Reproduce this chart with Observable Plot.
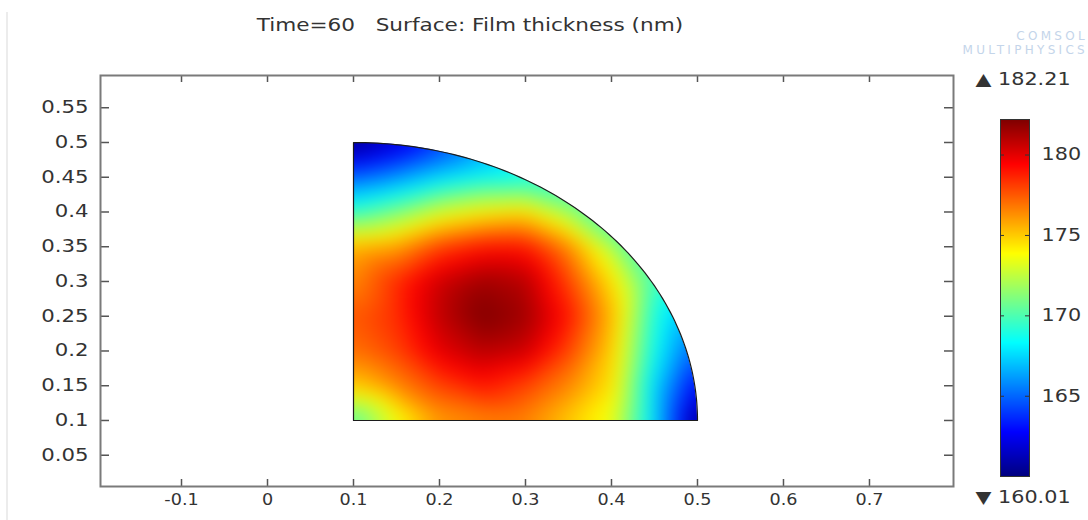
<!DOCTYPE html>
<html><head><meta charset="utf-8">
<script src="https://cdn.jsdelivr.net/npm/d3@7"></script>
<script src="https://cdn.jsdelivr.net/npm/@observablehq/plot@0.6"></script>
<style>
body{margin:0;background:#fff;}
#root{position:relative;width:1088px;height:520px;overflow:hidden;font-family:"DejaVu Sans",sans-serif;background:#fff;}
#main,#cbar{position:absolute;top:0;}
#main{left:0;}
#cbar{left:960px;}
#title{position:absolute;left:0;width:940px;top:15px;text-align:center;color:#333;font-size:17px;}
#title span{display:inline-block;transform:scaleX(1.27);white-space:pre;}
#wm{position:absolute;right:0px;top:29px;text-align:right;color:#c4d5ea;font-size:12px;line-height:14px;letter-spacing:3.3px;}
#edge{position:absolute;left:6px;top:12px;width:2px;height:510px;background:#ececec;}
</style></head>
<body>
<div id="root">
  <div id="edge"></div>
  <div id="main"></div>
  <div id="cbar"></div>
  <div id="title"><span>Time=60   Surface: Film thickness (nm)</span></div>
  <div id="wm">COMSOL<br>MULTIPHYSICS</div>
</div>
<script>
// ---- data ----
const gridX = [0.1, 0.15, 0.2, 0.25, 0.3, 0.35, 0.4, 0.45, 0.5];
const gridY = [0.1, 0.15, 0.2, 0.25, 0.3, 0.35, 0.4, 0.45, 0.5];
// film thickness (nm) at gridX (columns) for each gridY (rows); null = outside the domain
const thicknessRows = [
  [170.0, 173.5, 176.0, 176.5, 176.5, 175.0, 173.5, 167.5, 160.2], // y=0.10
  [175.0, 176.5, 178.0, 179.0, 178.0, 176.5, 174.5, 167.5, null],  // y=0.15
  [177.0, 178.0, 180.0, 181.0, 180.5, 178.0, 175.0, 168.5, null],  // y=0.20
  [177.5, 178.5, 180.8, 182.2, 181.5, 179.0, 175.5, 169.0, null],  // y=0.25
  [176.5, 178.5, 180.5, 181.5, 181.0, 178.0, 174.5, null, null],   // y=0.30
  [175.5, 176.0, 178.0, 179.0, 179.0, 176.5, 172.5, null, null],   // y=0.35
  [169.5, 171.0, 173.0, 174.0, 174.5, 172.0, null, null, null],    // y=0.40
  [165.0, 166.0, 167.5, 168.5, null, null, null, null, null],      // y=0.45
  [160.2, null, null, null, null, null, null, null, null]          // y=0.50
];
// extra samples on the curved edge and near the corners
const edgeSampleX = [0.15, 0.2, 0.25, 0.3, 0.35, 0.4, 0.446, 0.471, 0.487, 0.497, 0.475, 0.1];
const edgeSampleY = [0.497, 0.487, 0.471, 0.446, 0.412, 0.365, 0.3, 0.25, 0.2, 0.15, 0.1, 0.475];
const edgeThickness = [162.0, 164.5, 167.0, 169.0, 170.5, 170.5, 170.0, 167.5, 165.5, 163.0, 164.0, 162.5];

// domain geometry: quarter disk
const regionCenter = [0.1, 0.1];
const regionRadius = 0.4;

const xTicks = [-0.1, 0, 0.1, 0.2, 0.3, 0.4, 0.5, 0.6, 0.7];
const yTicks = [0.05, 0.1, 0.15, 0.2, 0.25, 0.3, 0.35, 0.4, 0.45, 0.5, 0.55];
const colorTicks = [165, 170, 175, 180];
const thicknessMin = 160.01;
const thicknessMax = 182.21;
const jetColors = ["#00007f", "#0000ff", "#00ffff", "#ffff00", "#ff0000", "#7f0000"];
const jetPositions = [0, 0.125, 0.375, 0.625, 0.875, 1];

// ---- build tables ----
const samples = [];
thicknessRows.forEach((row, j) => row.forEach((v, i) => {
  if (v != null) samples.push({x: gridX[i], y: gridY[j], v});
}));
edgeSampleX.forEach((x, i) => samples.push({x, y: edgeSampleY[i], v: edgeThickness[i]}));

const arcPts = d3.range(0, 91).map(a => {
  const t = a * Math.PI / 180;
  return {x: regionCenter[0] + regionRadius * Math.cos(t), y: regionCenter[1] + regionRadius * Math.sin(t)};
});
const regionTop = regionCenter[1] + regionRadius, regionRight = regionCenter[0] + regionRadius;
const outline = [{x: regionCenter[0], y: regionCenter[1]}, ...arcPts, {x: regionCenter[0], y: regionCenter[1]}];
// white mask above the arc (slightly widened to hide the raster's edge column)
const maskPts = [{x: regionRight + 0.01, y: regionCenter[1]}, ...arcPts, {x: regionCenter[0] - 0.002, y: regionTop}];

const colorScale = {
  type: "linear",
  domain: jetPositions.map(p => thicknessMin + p * (thicknessMax - thicknessMin)),
  range: jetColors,
  clamp: true
};

const W = 1088, H = 520, mL = 100, mR = 135, mT = 75, mB = 34;
const pw = W - mL - mR, ph = H - mT - mB;
const frameGray = "#7a7a7a";

const main = Plot.plot({
  width: W, height: H,
  marginLeft: mL, marginRight: mR, marginTop: mT, marginBottom: mB,
  style: {fontFamily: "DejaVu Sans, sans-serif", color: "#333", background: "transparent"},
  x: {domain: [-0.1942, 0.7977], label: null},
  y: {domain: [0.005, 0.5964], label: null},
  color: colorScale,
  marks: [
    Plot.raster(samples, {x: "x", y: "y", fill: "v", x1: regionCenter[0], y1: regionCenter[1], x2: regionRight, y2: regionTop,
      interpolate: "barycentric", blur: 9}),
    Plot.areaY(maskPts, {x: "x", y1: "y", y2: regionTop + 0.002, fill: "white", curve: "linear"}),
    Plot.line(outline, {x: "x", y: "y", stroke: "#1c1c1c", strokeWidth: 1.2}),
    Plot.tickX(xTicks, {x: d => d, insetTop: ph - 7, stroke: "#555", strokeWidth: 1.5}),
    Plot.tickX(xTicks, {x: d => d, insetBottom: ph - 7, stroke: "#555", strokeWidth: 1.5}),
    Plot.tickY(yTicks, {y: d => d, insetRight: pw - 9, stroke: "#555", strokeWidth: 1.5}),
    Plot.tickY(yTicks, {y: d => d, insetLeft: pw - 9, stroke: "#555", strokeWidth: 1.5}),
    Plot.frame({stroke: frameGray, strokeWidth: 2}),
    Plot.axisX(xTicks, {anchor: "bottom", tickSize: 0, tickPadding: 7, tickFormat: d => String(d), fontSize: 16, label: null}),
    Plot.axisY(yTicks, {anchor: "left", tickSize: 0, tickPadding: 12, tickFormat: d => String(d), fontSize: 17, label: null})
  ]
});
main.querySelectorAll('[aria-label="y-axis tick label"] text').forEach(t => {
  t.setAttribute("transform", (t.getAttribute("transform") || "") + " scale(1.25,1)");
});
main.querySelectorAll('[aria-label="x-axis tick label"] text').forEach(t => {
  t.setAttribute("transform", (t.getAttribute("transform") || "") + " scale(1.1,1)");
});
document.getElementById("main").appendChild(main);

const cb = Plot.plot({
  width: 128, height: 520,
  marginLeft: 40, marginRight: 59, marginTop: 119, marginBottom: 44,
  style: {fontFamily: "DejaVu Sans, sans-serif", color: "#333", background: "transparent", overflow: "visible"},
  x: {domain: [0, 1], axis: null},
  y: {domain: [thicknessMin, thicknessMax], axis: null},
  color: colorScale,
  marks: [
    Plot.raster({fill: (x, y) => y, x1: 0, x2: 1, y1: thicknessMin, y2: thicknessMax}),
    Plot.frame({stroke: "#333", strokeWidth: 1}),
    Plot.tickY(colorTicks, {y: d => d, insetRight: 25, stroke: "#333"}),
    Plot.tickY(colorTicks, {y: d => d, insetLeft: 25, stroke: "#333"}),
    Plot.axisY(colorTicks, {anchor: "right", tickSize: 0, tickPadding: 12, fontSize: 17, label: null, tickFormat: d => String(d)}),
    Plot.text([thicknessMax], {x: 0, y: d => d, text: d => "▲ " + d.toFixed(2), dy: -40, dx: -25, textAnchor: "start", fontSize: 17, fill: "#333"}),
    Plot.text([thicknessMin], {x: 0, y: d => d, text: d => "▼ " + d.toFixed(2), dy: 21, dx: -25, textAnchor: "start", fontSize: 17, fill: "#333"})
  ]
});
cb.querySelectorAll('text').forEach(t => {
  t.setAttribute("transform", (t.getAttribute("transform") || "") + " scale(1.22,1)");
});
document.getElementById("cbar").appendChild(cb);
</script>
</body></html>
